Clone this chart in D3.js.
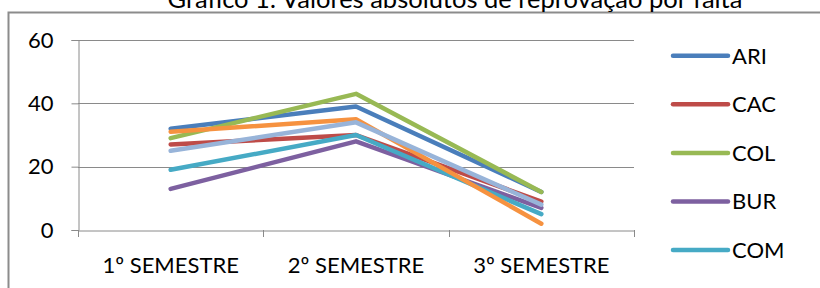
<!DOCTYPE html>
<html><head><meta charset="utf-8">
<script src="https://cdn.jsdelivr.net/npm/d3@7"></script>
<style>
html,body{margin:0;padding:0;background:#fff;overflow:hidden}
svg{display:block}
text{font-family:Lato,"Open Sans",sans-serif;fill:#000}
</style></head>
<body>
<svg id="chart" width="820" height="288"></svg>
<script>
const title = "Gráfico 1: Valores absolutos de reprovação por falta";
const categories = ["1º SEMESTRE", "2º SEMESTRE", "3º SEMESTRE"];
const seriesNames = ["ARI", "CAC", "COL", "BUR", "COM", "S6", "S7"];
const seriesColors = ["#4A7EBB", "#BE4B48", "#98B954", "#7D60A0", "#46AAC5", "#F69240", "#98B4D9"];
const ARI = [32, 39, 12];
const CAC = [27, 30, 9];
const COL = [29, 43, 12];
const BUR = [13, 28, 7];
const COM = [19, 30, 5];
const S6  = [31, 35, 2];
const S7  = [25, 34, 8];
const seriesValues = [ARI, CAC, COL, BUR, COM, S6, S7];
const yTicks = [0, 20, 40, 60];

const svg = d3.select("#chart");
const plot = {left: 78, right: 634, top: 40, bottom: 230};
const fs = "22px";

// frame
svg.append("rect").attr("x", 8.5).attr("y", 12.5).attr("width", 830).attr("height", 300)
  .attr("fill", "none").attr("stroke", "#8c8c8c").attr("stroke-width", 2);

// title (clipped at top, as in the reference)
svg.append("text").attr("x", 455).attr("y", 7.5).attr("text-anchor", "middle")
  .style("font-size", "25.5px").text(title);

const x = d3.scaleBand().domain(categories).range([plot.left, plot.right]);
const y = d3.scaleLinear().domain([0, 60]).range([plot.bottom, plot.top]);

// gridlines
svg.append("g").selectAll("line").data(yTicks.filter(d => d > 0)).join("line")
  .attr("x1", plot.left).attr("x2", plot.right)
  .attr("y1", d => Math.round(y(d)) + 0.5).attr("y2", d => Math.round(y(d)) + 0.5)
  .attr("stroke", "#8a8a8a").attr("stroke-width", 1);

// y axis
const yAxis = svg.append("g").attr("transform", `translate(${plot.left + 0.5},0)`)
  .call(d3.axisLeft(y).tickValues(yTicks).tickSize(7).tickPadding(18));
yAxis.select(".domain").attr("stroke", "#8a8a8a");
yAxis.selectAll(".tick line").attr("stroke", "#8a8a8a");
yAxis.selectAll("text").style("font-size", fs).style("font-family", "Lato").attr("fill", "#000");

// x axis
const xAxis = svg.append("g").attr("transform", `translate(0,${Math.round(y(0)) + 0.5})`)
  .call(d3.axisBottom(x).tickSize(0).tickPadding(27));
xAxis.select(".domain").attr("stroke", "#8a8a8a");
xAxis.selectAll("text").style("font-size", fs).style("font-family", "Lato").attr("fill", "#000");
const bounds = [plot.left, ...categories.map(c => x(c) + x.bandwidth())];
svg.append("g").selectAll("line").data(bounds).join("line")
  .attr("x1", d => Math.round(d) + 0.5).attr("x2", d => Math.round(d) + 0.5)
  .attr("y1", Math.round(y(0))).attr("y2", Math.round(y(0)) + 7)
  .attr("stroke", "#8a8a8a");

// lines
const line = d3.line().x((d, i) => x(categories[i]) + x.bandwidth() / 2).y(d => y(d));
svg.append("g").selectAll("path").data(seriesValues).join("path")
  .attr("d", d => line(d)).attr("fill", "none")
  .attr("stroke", (d, i) => seriesColors[i]).attr("stroke-width", 4.5)
  .attr("stroke-linecap", "round").attr("stroke-linejoin", "round");

// legend (entries below the visible area are cut off in the reference)
const legendY = i => 55.7 + i * 48.6;
const legendItems = seriesNames.map((n, i) => ({n, i})).filter(d => legendY(d.i) < 270);
const lg = svg.append("g").selectAll("g").data(legendItems).join("g")
  .attr("transform", d => `translate(673,${legendY(d.i)})`);
lg.append("line").attr("x1", 0).attr("x2", 55).attr("stroke", d => seriesColors[d.i])
  .attr("stroke-width", 4.5).attr("stroke-linecap", "round");
lg.append("text").attr("x", 59).attr("dy", "0.36em").style("font-size", fs).text(d => d.n);
</script>
</body></html>
